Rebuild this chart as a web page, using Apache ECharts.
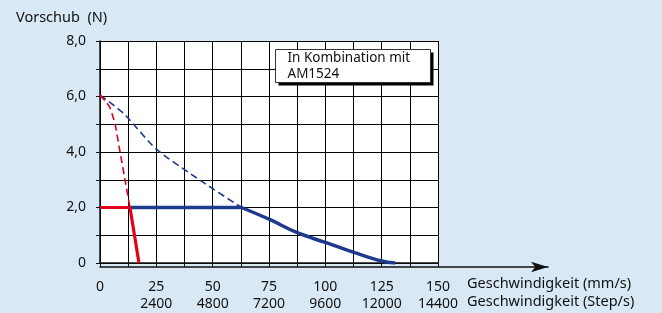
<!DOCTYPE html>
<html>
<head>
<meta charset="utf-8">
<script src="https://cdn.jsdelivr.net/npm/echarts@6/dist/echarts.min.js"></script>
<style>
  html, body { margin: 0; padding: 0; background: #d9e8f5; }
  #main { width: 662px; height: 313px; }
</style>
</head>
<body>
<div id="main"></div>
<script>
// Geschwindigkeit in mm/s, Vorschub in N
var redDashed = [[0, 6.05], [2.2, 5.85], [4.4, 5.6], [6.7, 5.0], [8.9, 4.0], [11.1, 3.0], [13.3, 2.0]];
var redSolid = [[0, 2.0], [13.3, 2.0], [17.3, 0]];
var blueDashed = [[0, 6.05], [5, 5.75], [11, 5.35], [25, 4.1], [45, 2.95], [62.8, 2.0]];
var blueFlat = [[13.3, 2.0], [62.8, 2.0]];
var blueCurve = [[62.8, 2.0], [75.5, 1.56], [87.3, 1.1], [100, 0.74], [112.4, 0.39], [125, 0.07], [131, 0]];

var mmTicks = [0, 25, 50, 75, 100, 125, 150];
var stepTicks = ['', '2400', '4800', '7200', '9600', '12000', '14400'];
var yTicks = {0: '0', 2: '2,0', 4: '4,0', 6: '6,0', 8: '8,0'};

var font = 'Noto Sans';
var chart = echarts.init(document.getElementById('main'));

var option = {
  backgroundColor: '#d9e8f5',
  animation: false,
  title: {
    text: 'Vorschub  (N)',
    left: 11,
    top: 5,
    textStyle: { fontFamily: font, fontSize: 14.5, fontWeight: 'normal', color: '#111' }
  },
  grid: [
    { left: 100, right: 224, top: 41, bottom: 46, show: true, backgroundColor: '#ffffff', borderWidth: 0 },
    { left: 100, right: 114, top: 41, bottom: 46, show: false }  // nur für den Pfeil der x-Achse
  ],
  xAxis: [{
    type: 'value',
    gridIndex: 0,
    min: 0,
    max: 150,
    interval: 12.5,
    z: 3,
    axisLine: { lineStyle: { color: '#111', width: 1.5 } },
    axisTick: { show: true, length: 4, lineStyle: { color: '#111' } },
    splitLine: { show: true, lineStyle: { color: '#000', width: 1 } },
    axisLabel: {
      margin: 16,
      fontFamily: font,
      fontSize: 14,
      color: '#111',
      lineHeight: 17,
      formatter: function (v) {
        var i = mmTicks.indexOf(v);
        if (i < 0) return '';
        return mmTicks[i] + '\n' + (stepTicks[i] || ' ');
      }
    },
    name: 'Geschwindigkeit (mm/s)\nGeschwindigkeit (Step/s)',
    nameLocation: 'end',
    nameGap: 29,
    nameTextStyle: {
      fontFamily: font, fontSize: 14.5, color: '#111', lineHeight: 18,
      align: 'left', verticalAlign: 'top', padding: [12, 0, 0, 0]
    }
  }, {
    type: 'value',
    gridIndex: 1,
    min: 0,
    max: 1,
    z: 3,
    axisLine: { show: true, symbol: ['none', 'arrow'], symbolSize: [8, 17], lineStyle: { color: '#111', width: 1.5 } },
    axisTick: { show: false },
    axisLabel: { show: false },
    splitLine: { show: false }
  }],
  yAxis: [{
    type: 'value',
    gridIndex: 0,
    min: 0,
    max: 8,
    interval: 1,
    z: 3,
    axisLine: { show: true, lineStyle: { color: '#111', width: 1.5 } },
    axisTick: { show: true, length: 4, lineStyle: { color: '#111' } },
    splitLine: { show: true, lineStyle: { color: '#000', width: 1 } },
    axisLabel: {
      margin: 14,
      fontFamily: font,
      fontSize: 14,
      color: '#111',
      formatter: function (v) { return yTicks[v] !== undefined ? yTicks[v] : ''; }
    }
  }, {
    type: 'value',
    gridIndex: 1,
    min: 0,
    max: 8,
    show: false
  }],
  graphic: [{
    type: 'group',
    left: 275,
    top: 49,
    z: 100,
    children: [
      { type: 'rect', z: 100, shape: { x: 3, y: 3, width: 155, height: 33 }, style: { fill: '#000' } },
      { type: 'rect', z: 101, shape: { x: 0, y: 0, width: 155, height: 33 }, style: { fill: '#fff', stroke: '#333', lineWidth: 1 } },
      {
        type: 'text', z: 102, x: 12, y: 1,
        style: { text: 'In Kombination mit\nAM1524', fontFamily: font, fontSize: 13.5, lineHeight: 16, fill: '#111' }
      }
    ]
  }],
  series: [
    {
      type: 'line', data: blueDashed, symbol: 'none', z: 5, smooth: 0.2,
      lineStyle: { color: '#1e3a8c', width: 1.6, type: [7, 4] }
    },
    {
      type: 'line', data: redDashed, symbol: 'none', z: 5, smooth: 0.2,
      lineStyle: { color: '#e2001a', width: 1.6, type: [7, 4] }
    },
    {
      type: 'line', data: blueFlat, symbol: 'none', z: 6,
      lineStyle: { color: '#1e3a8c', width: 3.5 }
    },
    {
      type: 'line', data: blueCurve, symbol: 'none', smooth: 0.4, z: 6,
      lineStyle: { color: '#1e3a8c', width: 3.5 }
    },
    {
      type: 'line', data: redSolid, symbol: 'none', z: 6,
      lineStyle: { color: '#e2001a', width: 3.2 }
    }
  ]
};

chart.setOption(option);
</script>
</body>
</html>
